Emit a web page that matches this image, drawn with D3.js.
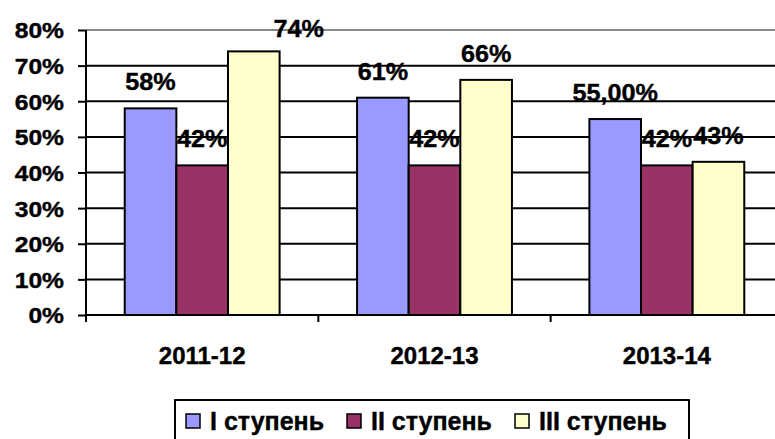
<!DOCTYPE html>
<html>
<head>
<meta charset="utf-8">
<script src="https://cdn.jsdelivr.net/npm/d3@7"></script>
<style>
  body { margin: 0; background: #fff; }
  text { font-family: Arial, 'Liberation Sans', sans-serif; font-weight: bold; fill: #000; stroke: #000; stroke-width: 0.4px; }
</style>
</head>
<body>
<script>
const categories = ['2011-12', '2012-13', '2013-14']
const seriesNames = ['I ступень', 'II ступень', 'III ступень']
const seriesColors = ['#9999FF', '#993366', '#FFFFCC']
const stage1 = [58, 61, 55]
const stage2 = [42, 42, 42]
const stage3 = [74, 66, 43]
const stage1Labels = ['58%', '61%', '55,00%']
const stage2Labels = ['42%', '42%', '42%']
const stage3Labels = ['74%', '66%', '43%']
const yTicks = [0, 10, 20, 30, 40, 50, 60, 70, 80]

const values = [stage1, stage2, stage3]
const labels = [stage1Labels, stage2Labels, stage3Labels]

const W = 775, H = 439
const margin = { top: 30, left: 86, bottom: 124 }
const plotRight = 783

const svg = d3.select('body').append('svg')
  .attr('width', W)
  .attr('height', H)

const x0 = d3.scaleBand()
  .domain(categories)
  .range([margin.left, plotRight])
  .padding(0)

const x1 = d3.scaleBand()
  .domain(d3.range(seriesNames.length))
  .range([0, x0.bandwidth()])
  .paddingInner(0)
  .paddingOuter(0.75)

const y = d3.scaleLinear()
  .domain([0, 80])
  .range([H - margin.bottom, margin.top])

// gridlines
svg.selectAll('.grid')
  .data(yTicks.filter(d => d > 0))
  .enter().append('line')
  .attr('class', 'grid')
  .attr('x1', margin.left)
  .attr('x2', plotRight)
  .attr('y1', d => y(d))
  .attr('y2', d => y(d))
  .style('stroke', d => d === 80 ? '#888' : '#000')
  .style('stroke-width', 2)

// y axis
const yAxis = svg.append('g')
  .attr('transform', `translate(${margin.left}, 0)`)
  .call(d3.axisLeft(y).tickValues(yTicks).tickSize(8).tickPadding(14).tickFormat(d => d + '%'))
yAxis.select('.domain').attr('d', `M0,${y(80)}V${y(0) + 7}`).style('stroke', '#000').style('stroke-width', 2)
yAxis.selectAll('.tick line').style('stroke', '#000').style('stroke-width', 2)
yAxis.selectAll('.tick text')
  .style('font-size', '22px')
  .attr('dy', '0.36em')
  .attr('transform', function () {
    const xx = +d3.select(this).attr('x')
    return `translate(${xx * (1 - 1.12)},0) scale(1.12,1)`
  })

// x axis
const xAxis = svg.append('g')
  .attr('transform', `translate(0, ${y(0)})`)
xAxis.append('line')
  .attr('x1', margin.left).attr('x2', plotRight)
  .style('stroke', '#000').style('stroke-width', 2)
xAxis.selectAll('.ctick')
  .data(categories.slice(1))
  .enter().append('line')
  .attr('x1', d => x0(d)).attr('x2', d => x0(d))
  .attr('y1', 0).attr('y2', 7)
  .style('stroke', '#000').style('stroke-width', 2)
xAxis.selectAll('.clabel')
  .data(categories)
  .enter().append('text')
  .attr('transform', d => `translate(${x0(d) + x0.bandwidth() / 2}, 49)`)
  .style('text-anchor', 'middle')
  .style('font-size', '24px')
  .text(d => d)

// bars
const groups = svg.selectAll('.group')
  .data(categories)
  .enter().append('g')
  .attr('transform', d => `translate(${x0(d)}, 0)`)

const cells = (c, ci) => values.map((s, si) => ({ si, v: s[ci], label: labels[si][ci] }))

groups.selectAll('rect')
  .data(cells)
  .enter().append('rect')
  .attr('x', d => x1(d.si))
  .attr('y', d => y(d.v))
  .attr('width', x1.bandwidth())
  .attr('height', d => y(0) - y(d.v))
  .style('fill', d => seriesColors[d.si])
  .style('stroke', '#000')
  .style('stroke-width', 2)

// labels too close to the top are pushed right, as Excel did
groups.selectAll('.vlabel')
  .data(cells)
  .enter().append('text')
  .attr('class', 'vlabel')
  .attr('transform', d => {
    const push = d.v > 70 ? 45 : 0
    const lift = d.v > 70 ? 14 : 18
    return `translate(${x1(d.si) + x1.bandwidth() / 2 + push}, ${y(d.v) - lift}) scale(1.05,1)`
  })
  .style('text-anchor', 'middle')
  .style('font-size', '24px')
  .text(d => d.label)

// legend
const legend = svg.append('g')
legend.append('rect')
  .attr('x', 175).attr('y', 400)
  .attr('width', 514).attr('height', 50)
  .style('fill', '#fff').style('stroke', '#000').style('stroke-width', 2)

const legendX = [186, 347, 515]
const items = legend.selectAll('.item')
  .data(seriesNames)
  .enter().append('g')
  .attr('transform', (d, i) => `translate(${legendX[i]}, 414)`)
items.append('rect')
  .attr('width', 14).attr('height', 14)
  .style('fill', (d, i) => seriesColors[i])
  .style('stroke', '#000').style('stroke-width', 1.5)
items.append('text')
  .attr('transform', 'translate(24, 16)')
  .style('font-size', '25px')
  .text(d => d)
</script>
</body>
</html>
